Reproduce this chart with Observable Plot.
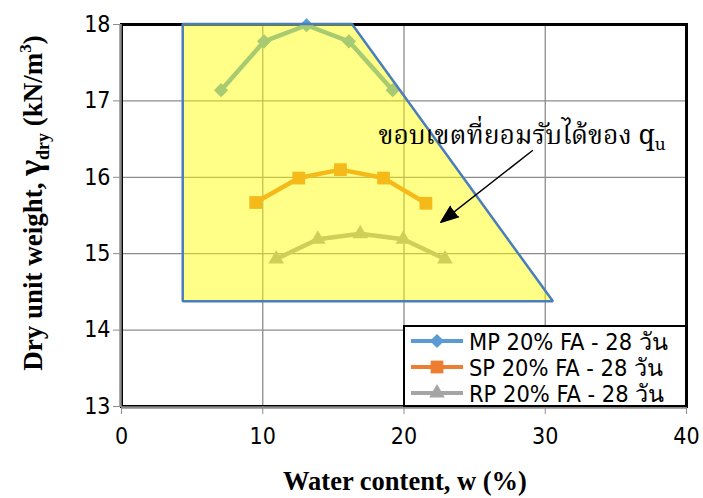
<!DOCTYPE html>
<html>
<head>
<meta charset="utf-8">
<script src="https://cdn.jsdelivr.net/npm/d3@7"></script>
<script src="https://cdn.jsdelivr.net/npm/@observablehq/plot@0.6"></script>
<style>
  body { margin: 0; background: #fff; }
  #chart { position: relative; width: 703px; height: 498px; overflow: hidden; background: #fff; }
  .legend {
    position: absolute; left: 403px; top: 325px; width: 284px; height: 82px;
    box-sizing: border-box; border: 2px solid #000; background: #fff;
    font-family: "DejaVu Sans Condensed", "DejaVu Sans", sans-serif; font-size: 23.4px; color: #000;
    padding-top: 1px; white-space: nowrap;
  }
  .legend .row { display: flex; align-items: center; height: 26px; }
  .legend svg { margin-left: 5px; margin-right: 5px; flex: none; }
</style>
</head>
<body>
<div id="chart"></div>
<script>
// Compaction curves: water content (%) vs dry unit weight (kN/m3)
const waterMP = [7.05, 10.1, 13.1, 16.1, 19.2];
const gammaMP = [17.14, 17.78, 17.99, 17.78, 17.14];
const waterSP = [9.5, 12.55, 15.5, 18.55, 21.55];
const gammaSP = [15.67, 15.99, 16.1, 15.99, 15.66];
const waterRP = [10.95, 13.9, 16.9, 19.95, 22.9];
const gammaRP = [14.93, 15.19, 15.26, 15.19, 14.93];

const seriesNames = ["MP 20% FA - 28 วัน", "SP 20% FA - 28 วัน", "RP 20% FA - 28 วัน"];
const seriesColors = ["#5B9BD5", "#ED7D31", "#A5A5A5"];
const seriesSymbols = ["diamond2", "square", "triangle"];

// Acceptable q_u zone: top edge, sloping right edge, flat bottom
const zoneWater = [4.37, 16.35, 30.58];
const zoneTop = [18, 18, 14.37];
const zoneBottom = 14.37;

const xTicks = [0, 10, 20, 30, 40];
const yTicks = [13, 14, 15, 16, 17, 18];

const zoneLabel = "ขอบเขตที่ยอมรับได้ของ q";
const zoneLabelSub = "u";
const labelAt = {w: 18.2, g: 16.55};
const arrowFrom = {w: 29.1, g: 16.35};
const arrowTo = {w: 22.6, g: 15.41};

const toRows = (ws, gs) => ws.map((w, i) => ({w, g: gs[i]}));
const series = [toRows(waterMP, gammaMP), toRows(waterSP, gammaSP), toRows(waterRP, gammaRP)];
const zone = zoneWater.map((w, i) => ({w, top: zoneTop[i], bottom: zoneBottom}));

const tickFont = "'DejaVu Sans Condensed', 'DejaVu Sans', sans-serif";
const thaiSerif = "Norasi, 'Noto Serif Thai', 'Liberation Serif', serif";
const symbolR = [6.4, 7.2, 5.8];

const marks = [
  Plot.gridX([10, 20, 30], {stroke: "#8c8c8c", strokeOpacity: 1, strokeWidth: 1.3}),
  Plot.gridY([14, 15, 16, 17], {stroke: "#8c8c8c", strokeOpacity: 1, strokeWidth: 1.3}),
  Plot.frame({stroke: "#000", strokeWidth: 3})
];
series.forEach((rows, i) => {
  marks.push(Plot.line(rows, {x: "w", y: "g", stroke: seriesColors[i], strokeWidth: 4.5}));
  marks.push(Plot.dot(rows, {x: "w", y: "g", symbol: () => seriesSymbols[i], r: symbolR[i],
    fill: seriesColors[i], stroke: "none"}));
});
marks.push(
  Plot.areaY(zone, {x: "w", y1: "bottom", y2: "top", fill: "#FFFF00", fillOpacity: 0.47,
    stroke: "#4A7EBB", strokeWidth: 2.5, strokeLinejoin: "miter"}),
  Plot.ruleX([0], {stroke: "#8c8c8c", strokeWidth: 2.5, dx: -1}),
  Plot.ruleY([13], {stroke: "#8c8c8c", strokeWidth: 2.5, dy: 1}),
  Plot.axisX({ticks: xTicks, tickSize: 8, tickPadding: 13, stroke: "#8c8c8c", fontSize: 23,
    fontFamily: tickFont, label: null, tickFormat: d => String(d)}),
  Plot.axisY({ticks: yTicks, tickSize: 8, tickPadding: 3, stroke: "#8c8c8c", fontSize: 23,
    fontFamily: tickFont, label: null, tickFormat: d => String(d)}),
  Plot.text([labelAt], {x: "w", y: "g", text: () => zoneLabel, textAnchor: "start",
    fontSize: 26.5, fontFamily: thaiSerif, fill: "#000"}),
  Plot.arrow([{from: arrowFrom, to: arrowTo}], {x1: d => d.from.w, y1: d => d.from.g,
    x2: d => d.to.w, y2: d => d.to.g, stroke: "#000", fill: "#000", strokeWidth: 1.4,
    headLength: 20, headAngle: 42, strokeLinejoin: "miter"})
);

const svg = Plot.plot({
  width: 703,
  height: 498,
  marginLeft: 121,
  marginRight: 17,
  marginTop: 24,
  marginBottom: 92,
  x: {domain: [0, 40]},
  y: {domain: [13, 18]},
  style: {background: "transparent", color: "#000"},
  marks
});

const root = d3.select(svg);
// subscript u on q
root.selectAll("text").filter(function () { return this.textContent === zoneLabel; })
  .append("tspan").attr("font-size", 17).attr("dy", 6).text(zoneLabelSub);

// axis titles
const titleFont = "'Liberation Serif', 'Times New Roman', serif";
root.append("text")
  .attr("x", 405).attr("y", 490)
  .attr("text-anchor", "middle")
  .attr("font-family", titleFont).attr("font-weight", "bold").attr("font-size", 26.5)
  .attr("fill", "#000")
  .text("Water content, w (%)");

const yt = root.append("text")
  .attr("transform", "translate(42,203) rotate(-90)")
  .attr("text-anchor", "middle")
  .attr("font-family", titleFont).attr("font-weight", "bold").attr("font-size", 27)
  .attr("fill", "#000");
yt.append("tspan").text("Dry unit weight, ");
yt.append("tspan").attr("font-size", 34).text("γ");
yt.append("tspan").attr("font-size", 18).attr("dy", 7).text("dry");
yt.append("tspan").attr("dy", -7).text(" (kN/m");
yt.append("tspan").attr("font-size", 17).attr("dy", -11).text("3");
yt.append("tspan").attr("dy", 11).text(")");

const chart = document.getElementById("chart");
chart.appendChild(svg);

// legend
const legend = document.createElement("div");
legend.className = "legend";
seriesNames.forEach((name, i) => {
  const row = document.createElement("div");
  row.className = "row";
  const sw = d3.create("svg").attr("width", 54).attr("height", 22);
  sw.append("line").attr("x1", 1).attr("x2", 53).attr("y1", 11).attr("y2", 11)
    .attr("stroke", seriesColors[i]).attr("stroke-width", 4);
  const sym = {diamond2: d3.symbolDiamond2, square: d3.symbolSquare, triangle: d3.symbolTriangle}[seriesSymbols[i]];
  sw.append("path").attr("transform", "translate(27,11)")
    .attr("d", d3.symbol(sym, Math.PI * symbolR[i] * symbolR[i])())
    .attr("fill", seriesColors[i]);
  row.appendChild(sw.node());
  const label = document.createElement("span");
  label.textContent = name;
  row.appendChild(label);
  legend.appendChild(row);
});
chart.appendChild(legend);
</script>
</body>
</html>
